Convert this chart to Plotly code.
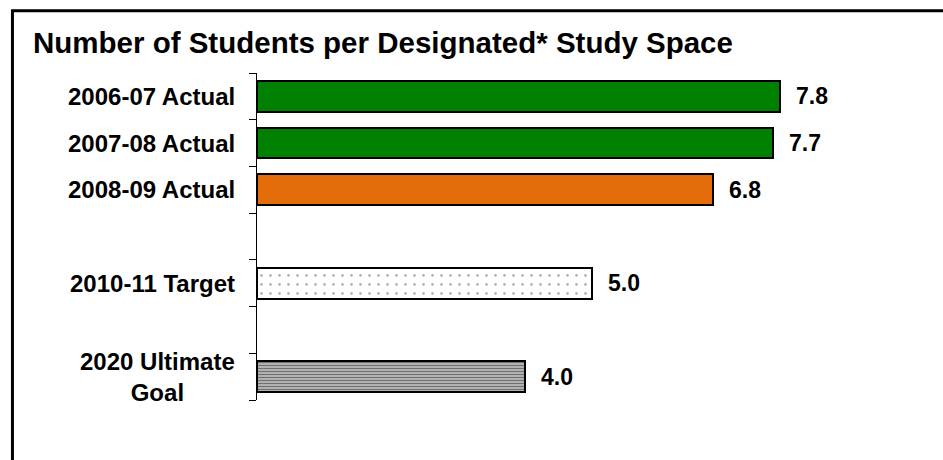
import plotly.graph_objects as go

# Chart data
categories = ["2006-07 Actual", "2007-08 Actual", "2008-09 Actual", "2010-11 Target", "2020 Ultimate<br>Goal"]
values = [7.8, 7.7, 6.8, 5.0, 4.0]
# row slots on the category axis (gaps left between the actuals, target and goal)
slots = [0, 1, 2, 4, 6]
title_text = "Number of Students per Designated* Study Space"

FONT = "Liberation Sans, Arial, sans-serif"

fills = [
    dict(color="#008000"),
    dict(color="#008000"),
    dict(color="#E46C0A"),
    dict(color="white", pattern=dict(shape=".", fgcolor="#707070", bgcolor="white", size=9, solidity=0.08)),
    dict(color="#808080", pattern=dict(shape="-", fgcolor="#111111", bgcolor="#cfcfcf", size=3, solidity=0.55)),
]

fig = go.Figure()
for cat, val, pos, fill in zip(categories, values, slots, fills):
    fig.add_trace(go.Bar(
        x=[val], y=[pos], orientation="h", width=0.66,
        marker=dict(**fill, line=dict(color="black", width=2)),
        name=cat, showlegend=False, hoverinfo="skip",
    ))

annotations = []
for cat, val, pos in zip(categories, values, slots):
    # value label at the end of each bar
    annotations.append(dict(
        x=val, y=pos, xref="x", yref="y", text=f"{val:.1f}",
        showarrow=False, xanchor="left", xshift=14,
        font=dict(family=FONT, size=23, color="black", weight="bold"),
    ))
    # category label left of the axis
    annotations.append(dict(
        x=0, y=pos, xref="paper", yref="y", text=cat,
        showarrow=False, xanchor="right", xshift=-20, align="center",
        font=dict(family=FONT, size=24, color="black", weight="bold"),
    ))

annotations.append(dict(
    x=0, y=1, xref="paper", yref="paper", text=title_text,
    showarrow=False, xanchor="left", yanchor="middle",
    xshift=-226, yshift=31,
    font=dict(family=FONT, size=29.5, color="black", weight="bold"),
))

boundaries = [i - 0.5 for i in range(8)]

fig.update_layout(
    width=943, height=460,
    margin=dict(l=257, r=16, t=73, b=60),
    paper_bgcolor="white", plot_bgcolor="white",
    bargap=0,
    xaxis=dict(range=[0, 10], visible=False, fixedrange=True),
    yaxis=dict(
        range=[6.5, -0.5], tickmode="array", tickvals=boundaries,
        ticktext=[""] * len(boundaries), ticks="outside", ticklen=7,
        tickcolor="black", tickwidth=1, showline=True, linecolor="black",
        linewidth=1, showgrid=False, zeroline=False, fixedrange=True,
    ),
    annotations=annotations,
    shapes=[
        # outer frame (top and left edges fall inside the page)
        dict(type="rect", xref="paper", yref="paper",
             x0=-0.365, x1=1.05, y0=-0.25, y1=1.19,
             line=dict(color="black", width=3), fillcolor="rgba(0,0,0,0)", layer="below"),
    ],
)

fig.write_html("out.html")
